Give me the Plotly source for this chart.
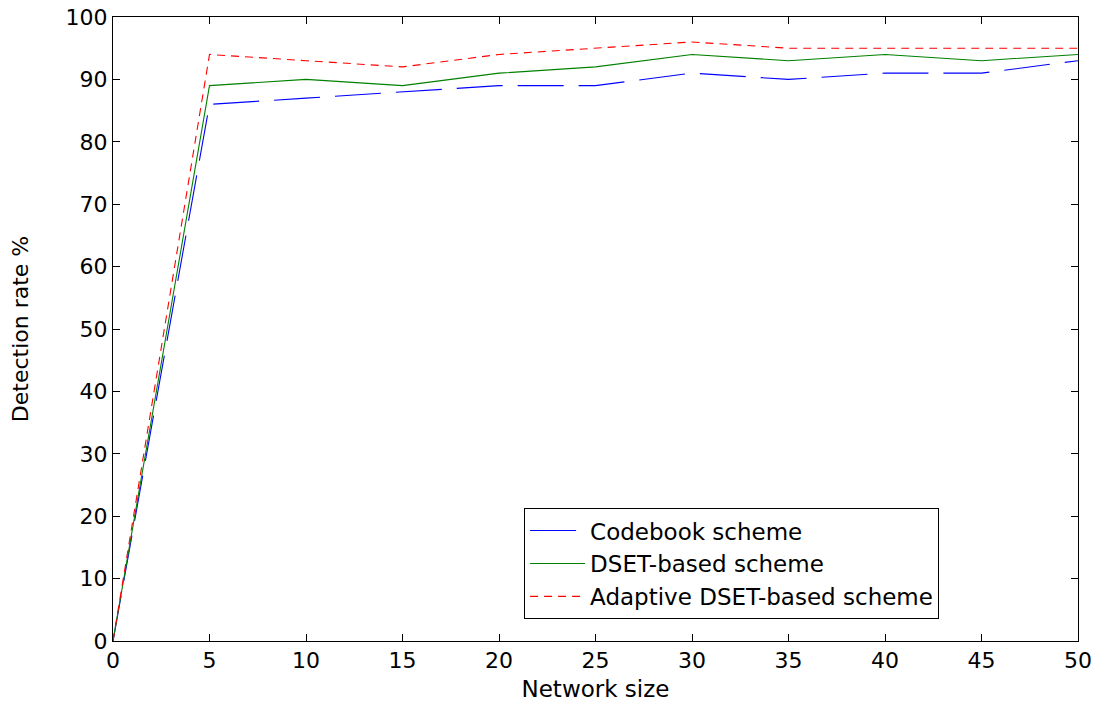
import plotly.graph_objects as go

# Network sizes and detection rates (%) for each scheme
network_size = [0, 5, 10, 15, 20, 25, 30, 35, 40, 45, 50]
codebook = [0, 86, 87, 88, 89, 89, 91, 90, 91, 91, 93]
dset_based = [0, 89, 90, 89, 91, 92, 94, 93, 94, 93, 94]
adaptive_dset = [0, 94, 93, 92, 94, 95, 96, 95, 95, 95, 95]

x_ticks = [0, 5, 10, 15, 20, 25, 30, 35, 40, 45, 50]
y_ticks = [0, 10, 20, 30, 40, 50, 60, 70, 80, 90, 100]

FONT = "DejaVu Sans, Liberation Sans, Arial, sans-serif"

fig = go.Figure()
fig.add_trace(go.Scatter(
    x=network_size, y=codebook, mode="lines", name="Codebook scheme",
    line=dict(color="#0000ff", width=1.1, dash="46px,15px"),
))
fig.add_trace(go.Scatter(
    x=network_size, y=dset_based, mode="lines", name="DSET-based scheme",
    line=dict(color="#008000", width=1.1),
))
fig.add_trace(go.Scatter(
    x=network_size, y=adaptive_dset, mode="lines", name="Adaptive DSET-based scheme",
    line=dict(color="#ff0000", width=1.1, dash="8px,6px"),
))

axis_common = dict(
    showgrid=False, zeroline=False, showline=True, linecolor="black", linewidth=1,
    mirror="allticks", ticks="inside", ticklen=7, tickcolor="black", tickwidth=1,
    tickfont=dict(family=FONT, size=22, color="black"), automargin=False,
)

fig.update_layout(
    width=1103, height=708,
    margin=dict(l=113, r=25, t=17, b=67, autoexpand=False),
    paper_bgcolor="white", plot_bgcolor="white",
    font=dict(family=FONT, color="black"),
    xaxis=dict(range=[0, 50], tickvals=x_ticks,
               title=dict(text="Network size", font=dict(size=23), standoff=8),
               **axis_common),
    yaxis=dict(range=[0, 100], tickvals=y_ticks,
               title=dict(text="Detection rate %", font=dict(size=22), standoff=30),
               **axis_common),
    legend=dict(
        x=0.426, y=0.213, xanchor="left", yanchor="top",
        bgcolor="white", bordercolor="black", borderwidth=1,
        font=dict(family=FONT, size=23, color="black"),
        tracegroupgap=0, itemwidth=55,
    ),
    showlegend=True,
)

fig.write_html("out.html")
